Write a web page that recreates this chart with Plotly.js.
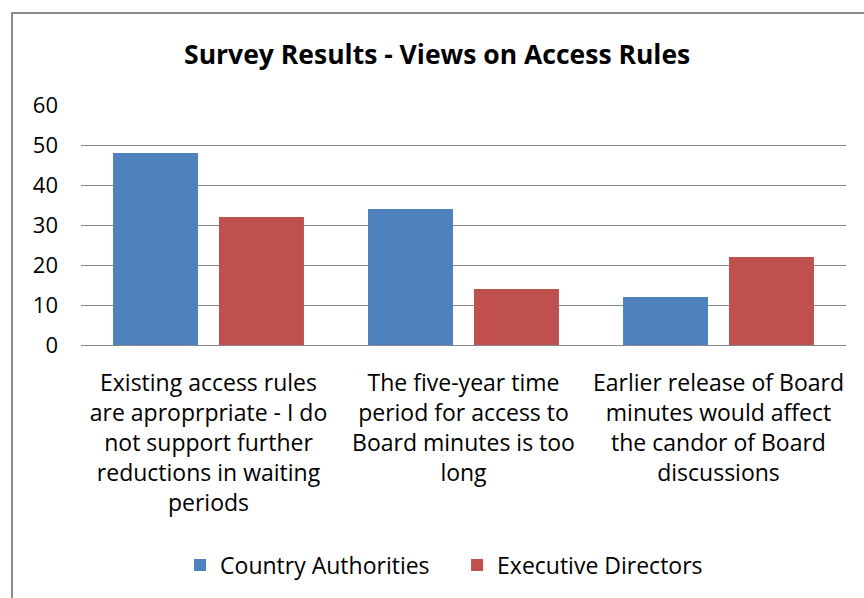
<!DOCTYPE html>
<html><head><meta charset="utf-8">
<script src="https://cdn.plot.ly/plotly-3.0.1.min.js"></script>
<style>html,body{margin:0;padding:0;background:#fff;}#chart{width:864px;height:598px;}</style>
</head><body><div id="chart"></div>
<script>
const categories = [
  "Existing access rules<br>are aproprpriate - I do<br>not support further<br>reductions in waiting<br>periods",
  "The five-year time<br>period for access to<br>Board minutes is too<br>long",
  "Earlier release of Board<br>minutes would affect<br>the candor of Board<br>discussions"
];
const countryAuthorities = [48, 34, 12];
const executiveDirectors = [32, 14, 22];
const yTicks = [0, 10, 20, 30, 40, 50, 60];

const FONT = "'Open Sans', sans-serif";
const data = [
  {type:'bar', name:'Country Authorities', x:categories, y:countryAuthorities,
   marker:{color:'#4F81BD'}},
  {type:'bar', name:'Executive Directors', x:categories, y:executiveDirectors,
   marker:{color:'#C0504D'}}
];
const layout = {
  width:864, height:598,
  margin:{l:81, r:18, t:105, b:253},
  paper_bgcolor:'#fff', plot_bgcolor:'#fff',
  font:{family:FONT, size:23, color:'#000'},
  title:{text:'<b>Survey Results - Views on Access Rules</b>', font:{family:FONT, size:26.5, color:'#000'},
         xref:'container', x:0.506, xanchor:'center', yref:'container', y:0.908, yanchor:'middle'},
  barmode:'group', bargap:0.169, bargroupgap:0.198,
  xaxis:{showgrid:false, showline:false, zeroline:false, ticks:'', tickfont:{size:23},
         ticklabelstandoff:22, automargin:false},
  yaxis:{range:[0,60], tickvals:yTicks, showgrid:true, gridcolor:'#868686', gridwidth:1,
         zeroline:true, zerolinecolor:'#868686', zerolinewidth:1, showline:false, ticks:'',
         ticklabelstandoff:22, tickfont:{size:22}, automargin:false},
  showlegend:true,
  legend:{orientation:'h', x:0.1295, xanchor:'left', y:-0.917, yanchor:'middle',
          font:{size:23}, itemsizing:'constant', traceorder:'normal', itemwidth:30,
          entrywidth:232, entrywidthmode:'pixels'},
  shapes:[{type:'rect', xref:'paper', yref:'paper', x0:-0.0902, x1:1.2, y0:-1.3, y1:1.383,
           line:{color:'#8c8c8c', width:2}, fillcolor:'rgba(0,0,0,0)', layer:'above'}]
};
Plotly.newPlot('chart', data, layout, {displayModeBar:false, staticPlot:true});
</script></body></html>
